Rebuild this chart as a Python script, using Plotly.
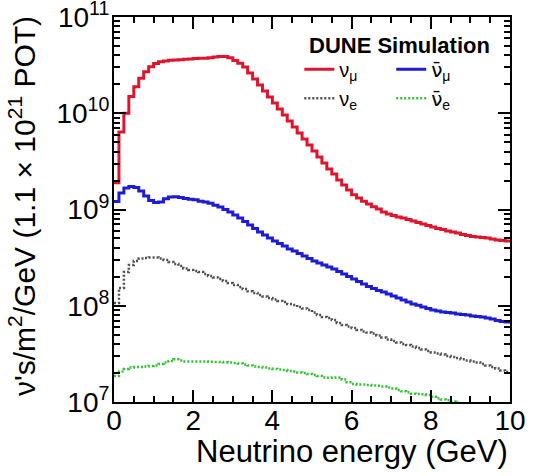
import numpy as np
import plotly.graph_objects as go

# Bin edges: 80 bins of 0.125 GeV from 0 to 10 GeV
bin_width = 0.125
energy_edges = np.round(np.arange(0, 10 + bin_width / 2, bin_width), 4)

numu = [1.9e9, 6.4e9, 1.0e10, 1.49e10, 1.89e10, 2.31e10, 2.70e10, 3.05e10,
        3.30e10, 3.44e10, 3.49e10, 3.55e10, 3.58e10, 3.61e10, 3.64e10, 3.67e10,
        3.70e10, 3.72e10, 3.73e10, 3.78e10, 3.85e10, 3.90e10, 3.90e10, 3.78e10,
        3.53e10, 3.32e10, 3.03e10, 2.62e10, 2.27e10, 1.97e10, 1.70e10, 1.48e10,
        1.28e10, 1.11e10, 9.60e9, 8.30e9, 7.19e9, 6.24e9, 5.40e9, 4.68e9,
        4.05e9, 3.51e9, 3.04e9, 2.64e9, 2.34e9, 2.02e9, 1.80e9, 1.59e9,
        1.42e9, 1.32e9, 1.22e9, 1.14e9, 1.07e9, 1.01e9, 9.42e8, 8.98e8,
        8.67e8, 8.36e8, 8.16e8, 7.87e8, 7.60e8, 7.33e8, 7.07e8, 6.82e8,
        6.58e8, 6.35e8, 6.20e8, 5.98e8, 5.84e8, 5.70e8, 5.50e8, 5.37e8,
        5.24e8, 5.18e8, 5.12e8, 5.06e8, 4.94e8, 4.82e8, 4.76e8, 4.71e8]

numubar = [1.21e9, 1.48e9, 1.67e9, 1.73e9, 1.69e9, 1.56e9, 1.38e9, 1.24e9,
           1.18e9, 1.20e9, 1.29e9, 1.35e9, 1.36e9, 1.33e9, 1.30e9, 1.28e9,
           1.26e9, 1.22e9, 1.20e9, 1.16e9, 1.11e9, 1.06e9, 1.00e9, 9.42e8,
           8.77e8, 8.16e8, 7.50e8, 6.90e8, 6.35e8, 5.84e8, 5.43e8, 5.06e8,
           4.71e8, 4.44e8, 4.18e8, 3.89e8, 3.71e8, 3.49e8, 3.29e8, 3.10e8,
           2.92e8, 2.78e8, 2.65e8, 2.53e8, 2.41e8, 2.27e8, 2.14e8, 2.01e8,
           1.90e8, 1.79e8, 1.68e8, 1.58e8, 1.51e8, 1.44e8, 1.39e8, 1.32e8,
           1.26e8, 1.20e8, 1.15e8, 1.09e8, 1.04e8, 1.01e8, 9.70e7, 9.36e7,
           9.03e7, 8.81e7, 8.61e7, 8.51e7, 8.41e7, 8.21e7, 8.11e7, 8.02e7,
           7.83e7, 7.73e7, 7.64e7, 7.46e7, 7.28e7, 7.03e7, 6.86e7, 6.78e7]

nue = [1.07e8, 1.53e8, 2.24e8, 2.65e8, 2.92e8, 3.10e8, 3.14e8, 3.17e8,
       3.17e8, 3.10e8, 2.99e8, 2.85e8, 2.72e8, 2.59e8, 2.44e8, 2.35e8,
       2.30e8, 2.24e8, 2.14e8, 2.04e8, 1.97e8, 1.90e8, 1.81e8, 1.72e8,
       1.64e8, 1.57e8, 1.49e8, 1.41e8, 1.36e8, 1.29e8, 1.25e8, 1.20e8,
       1.16e8, 1.12e8, 1.09e8, 1.04e8, 1.02e8, 9.70e7, 9.36e7, 9.03e7,
       8.51e7, 8.02e7, 7.64e7, 7.46e7, 7.11e7, 6.62e7, 6.31e7, 6.08e7,
       5.87e7, 5.60e7, 5.40e7, 5.27e7, 5.15e7, 4.91e7, 4.68e7, 4.46e7,
       4.30e7, 4.15e7, 4.01e7, 3.91e7, 3.77e7, 3.64e7, 3.51e7, 3.39e7,
       3.27e7, 3.19e7, 3.12e7, 3.01e7, 2.94e7, 2.86e7, 2.77e7, 2.70e7,
       2.64e7, 2.57e7, 2.48e7, 2.39e7, 2.31e7, 2.23e7, 2.12e7, 2.05e7]

nuebar = [1.86e7, 2.07e7, 2.20e7, 2.28e7, 2.31e7, 2.31e7, 2.34e7, 2.37e7,
          2.39e7, 2.48e7, 2.57e7, 2.67e7, 2.77e7, 2.70e7, 2.64e7, 2.64e7,
          2.64e7, 2.64e7, 2.63e7, 2.61e7, 2.60e7, 2.60e7, 2.58e7, 2.57e7,
          2.54e7, 2.51e7, 2.45e7, 2.39e7, 2.34e7, 2.31e7, 2.28e7, 2.23e7,
          2.20e7, 2.18e7, 2.15e7, 2.10e7, 2.07e7, 2.02e7, 2.00e7, 1.95e7,
          1.91e7, 1.86e7, 1.80e7, 1.78e7, 1.80e7, 1.80e7, 1.71e7, 1.60e7,
          1.54e7, 1.52e7, 1.52e7, 1.50e7, 1.48e7, 1.47e7, 1.45e7, 1.41e7,
          1.38e7, 1.33e7, 1.29e7, 1.26e7, 1.22e7, 1.21e7, 1.20e7, 1.18e7,
          1.13e7, 1.09e7, 1.06e7, 1.04e7, 1.01e7, 9.8e6, 9.6e6, 9.4e6,
          9.2e6, 9.0e6, 8.8e6, 8.6e6, 8.4e6, 8.2e6, 8.0e6, 7.8e6]

y_tick_vals = [1e7, 1e8, 1e9, 1e10, 1e11]
y_tick_text = ["10<sup>7</sup>", "10<sup>8</sup>", "10<sup>9</sup>",
               "10<sup>10</sup>", "10<sup>11</sup>"]
x_tick_vals = [0, 2, 4, 6, 8, 10]
x_tick_text = ["0", "2", "4", "6", "8", "10"]

FONT = "Liberation Sans, Arial, Helvetica, sans-serif"
NUBAR = "<span style=\"font-family:'DejaVu Sans'\">ν̄</span>"

series = [
    ("ν<sub>μ</sub>", numu, "#e0142c", "solid", 3, "legend"),
    ("ν<sub>e</sub>", nue, "#505050", "2px,2px", 2.5, "legend"),
    (NUBAR + "<sub>μ</sub>", numubar, "#1c1cd8", "solid", 3, "legend2"),
    (NUBAR + "<sub>e</sub>", nuebar, "#2ec42e", "2px,2px", 2.5, "legend2"),
]

fig = go.Figure()
for name, vals, color, dash, width, leg in series:
    fig.add_trace(go.Scatter(
        x=energy_edges, y=list(vals) + [vals[-1]],
        mode="lines", line=dict(color=color, dash=dash, width=width, shape="hv"),
        name=name, legend=leg,
    ))

minor_y = [m * 10 ** e for e in range(7, 11) for m in range(2, 10)]

axis_common = dict(
    showline=True, linecolor="black", linewidth=2, mirror="allticks",
    ticks="inside", ticklen=12, tickwidth=2, tickcolor="black",
    showgrid=False, zeroline=False, automargin=False, ticklabeloverflow="allow",
    tickfont=dict(family=FONT, size=28, color="black"),
)

fig.update_xaxes(range=[0, 10], tickmode="array", tickvals=x_tick_vals,
                 ticktext=x_tick_text, ticklabelstandoff=-8,
                 minor=dict(dtick=0.5, tick0=0, ticks="inside", ticklen=6, tickwidth=2,
                            tickcolor="black", showgrid=False),
                 **axis_common)
fig.update_yaxes(type="log", range=[6.9995, 11.0005], tickmode="array",
                 tickvals=y_tick_vals, ticktext=y_tick_text, ticklabelstandoff=-3,
                 minor=dict(tickmode="array", tickvals=minor_y, ticks="inside",
                            ticklen=6, tickwidth=2, tickcolor="black", showgrid=False),
                 **axis_common)

leg_common = dict(xref="paper", yref="paper", xanchor="left", yanchor="top",
                  bgcolor="rgba(0,0,0,0)", itemwidth=30, tracegroupgap=0,
                  font=dict(family=FONT, size=20, color="black"))

fig.update_layout(
    width=535, height=476,
    margin=dict(l=114, r=25, t=17, b=74),
    paper_bgcolor="white", plot_bgcolor="white",
    font=dict(family=FONT, color="black"),
    showlegend=True,
    legend=dict(x=0.468, y=0.915, **leg_common),
    legend2=dict(x=0.70, y=0.915, **leg_common),
    annotations=[
        dict(text="<b>DUNE Simulation</b>", xref="paper", yref="paper",
             x=0.72, y=0.925, xanchor="center", yanchor="middle", showarrow=False,
             font=dict(family=FONT, size=22, color="black")),
        dict(text="Neutrino energy (GeV)", xref="paper", yref="paper",
             x=1.0, y=0, xanchor="right", yanchor="top", yshift=-30, showarrow=False,
             font=dict(family=FONT, size=31, color="black")),
        dict(text="ν's/m<sup>2</sup>/GeV (1.1 × 10<sup>21</sup> POT)",
             xref="paper", yref="paper", x=0, y=1, xanchor="center", yanchor="top",
             xshift=-92, yshift=3, textangle=-90, showarrow=False,
             font=dict(family=FONT, size=30, color="black")),
    ],
)

fig.write_html("out.html")
